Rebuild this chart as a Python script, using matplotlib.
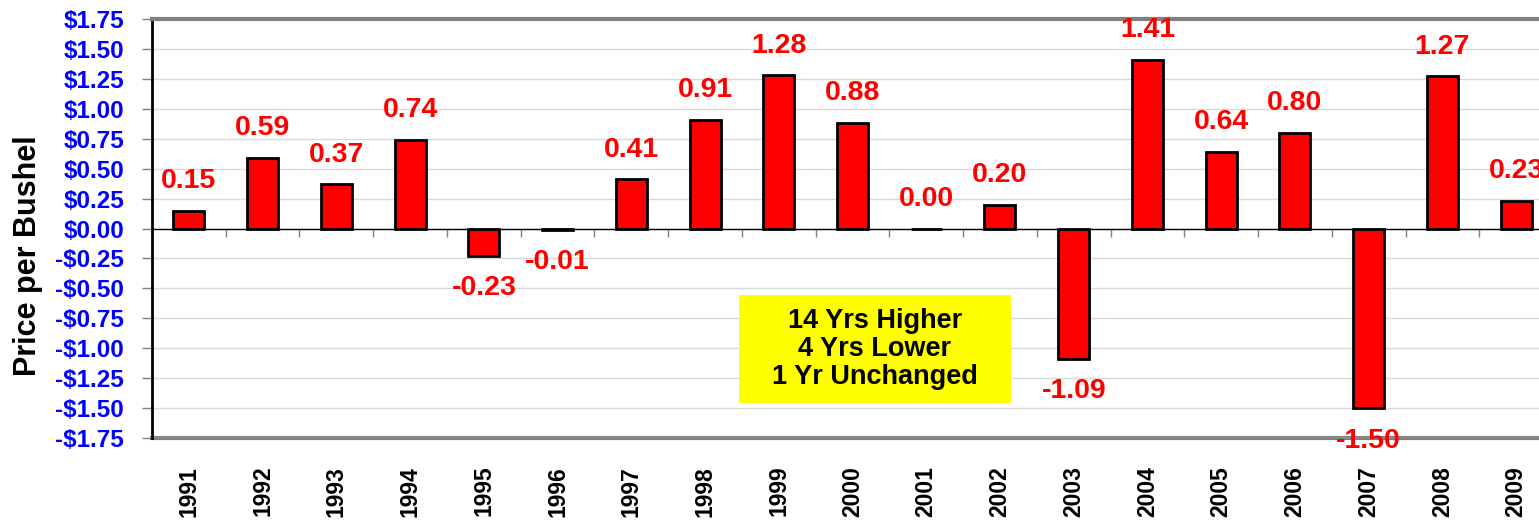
import matplotlib.pyplot as plt
import numpy as np
from matplotlib.patches import Rectangle

# data: yearly price change, $/bushel
years = [str(y) for y in range(1991, 2010)]
change = [0.15, 0.59, 0.37, 0.74, -0.23, -0.01, 0.41, 0.91, 1.28, 0.88,
          0.00, 0.20, -1.09, 1.41, 0.64, 0.80, -1.50, 1.27, 0.23]
yticks = np.arange(-1.75, 1.76, 0.25)
box_lines = ["14 Yrs Higher", "4 Yrs Lower", "1 Yr Unchanged"]

plt.rcParams['font.family'] = ['Liberation Sans', 'DejaVu Sans']
plt.rcParams['font.weight'] = 'bold'

W, H = 1539, 522
fig = plt.figure(figsize=(W / 100, H / 100), dpi=100)
# plot area runs past the right edge (cropped original)
ax = fig.add_axes([152 / W, (H - 438) / H, 1401 / W, 419 / H])

x = np.arange(len(years))
ax.bar(x, change, width=0.42, color='#ff0000', edgecolor='black', linewidth=2, zorder=3)

ax.set_xlim(-0.5, len(years) - 0.5)
ax.set_ylim(-1.75, 1.75)

# value labels
for xi, v in zip(x, change):
    if v < 0:
        ax.annotate(f"{v:.2f}", (xi, v), xytext=(0, -14), textcoords='offset points',
                    ha='center', va='top', color='#ff0000', fontsize=20.5, fontweight='bold',
                    annotation_clip=False)
    else:
        ax.annotate(f"{v:.2f}", (xi, v), xytext=(0, 12), textcoords='offset points',
                    ha='center', va='bottom', color='#ff0000', fontsize=20.5, fontweight='bold',
                    annotation_clip=False)

# y axis
ax.set_yticks(yticks)
ax.set_yticklabels([("-$%.2f" % abs(t)) if t < -1e-9 else ("$%.2f" % abs(t)) for t in yticks])
ax.tick_params(axis='y', direction='out', length=7, width=1, color='#808080', pad=13,
               labelsize=17.5, labelcolor='#0000ff')
for lab in ax.get_yticklabels():
    lab.set_fontweight('bold')
ax.yaxis.grid(True, color='#d9d9d9', linewidth=1, zorder=0)
ax.set_axisbelow(True)

# category axis crosses at zero, labels at the bottom
ax.spines['bottom'].set_position(('data', 0))
ax.spines['bottom'].set_linewidth(1)
ax.spines['bottom'].set_color('black')
ax.spines['bottom'].set_zorder(4)
ax.set_xticks(x[:-1] + 0.5)
ax.set_xticklabels([])
ax.tick_params(axis='x', direction='out', length=6, width=1, color='#808080')

sec = ax.secondary_xaxis(0.0)
sec.set_xticks(x)
sec.set_xticklabels(years, rotation=90, fontsize=16.5, fontweight='bold')
sec.tick_params(length=0, pad=20)
sec.spines['bottom'].set_color('#808080')
sec.spines['bottom'].set_linewidth(3)

ax.spines['top'].set_color('#808080')
ax.spines['top'].set_linewidth(3)
ax.spines['left'].set_color('black')
ax.spines['left'].set_linewidth(2)
ax.spines['right'].set_visible(False)

# summary box
ax.add_patch(Rectangle((0.419, 0.0835), 0.194, 0.2575, transform=ax.transAxes,
                       facecolor='#ffff00', edgecolor='none', zorder=5))
ax.text(0.516, 0.212, "\n".join(box_lines), transform=ax.transAxes, ha='center', va='center',
        fontsize=19.5, fontweight='bold', color='black', linespacing=1.1, zorder=6)

fig.text(28 / W, (H - 256) / H, "Price per Bushel", rotation=90, ha='center', va='center',
         fontsize=22, fontweight='bold', color='black')

fig.savefig("out.png", dpi=100)
